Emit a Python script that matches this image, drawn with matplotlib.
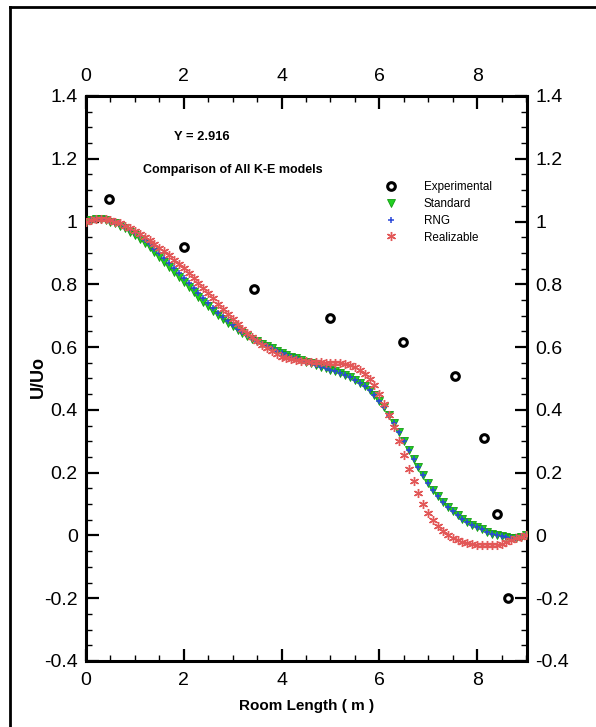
import matplotlib
matplotlib.use('Agg')
import matplotlib.pyplot as plt
from matplotlib.lines import Line2D
from matplotlib.ticker import MultipleLocator

# ── DATA ──────────────────────────────────────────────────────────────────────
exp_x = [0.47, 2.00, 3.43, 4.99, 6.48, 7.55, 8.14, 8.40, 8.63]
exp_y = [1.072, 0.920, 0.785, 0.693, 0.617, 0.508, 0.311, 0.069, -0.199]

model_x = [round(0.1 * i, 1) for i in range(91)]

standard_y = [
    1.000, 1.005, 1.008, 1.008, 1.005, 1.000, 0.994, 0.987, 0.978, 0.968,
    0.957, 0.945, 0.932, 0.918, 0.903, 0.888, 0.872, 0.856, 0.840, 0.824,
    0.808, 0.792, 0.776, 0.760, 0.745, 0.730, 0.716, 0.702, 0.689, 0.677,
    0.666, 0.655, 0.645, 0.636, 0.627, 0.619, 0.611, 0.603, 0.596, 0.589,
    0.582, 0.576, 0.570, 0.564, 0.558, 0.553, 0.548, 0.543, 0.538, 0.533,
    0.528, 0.523, 0.517, 0.511, 0.504, 0.496, 0.487, 0.476, 0.463, 0.447,
    0.429, 0.408, 0.384, 0.358, 0.330, 0.301, 0.272, 0.244, 0.217, 0.191,
    0.167, 0.145, 0.125, 0.107, 0.091, 0.077, 0.064, 0.053, 0.043, 0.034,
    0.026, 0.019, 0.012, 0.006, 0.001, -0.003, -0.006, -0.008, -0.007, -0.004,
    0.000]

rng_y = [
    1.000, 1.005, 1.008, 1.009, 1.007, 1.003, 0.998, 0.991, 0.983, 0.974,
    0.964, 0.953, 0.941, 0.928, 0.914, 0.899, 0.884, 0.868, 0.852, 0.836,
    0.820, 0.803, 0.787, 0.771, 0.755, 0.739, 0.724, 0.709, 0.695, 0.682,
    0.670, 0.658, 0.647, 0.637, 0.628, 0.619, 0.611, 0.603, 0.596, 0.589,
    0.582, 0.576, 0.570, 0.564, 0.558, 0.553, 0.548, 0.543, 0.538, 0.533,
    0.528, 0.523, 0.517, 0.511, 0.504, 0.496, 0.487, 0.476, 0.463, 0.447,
    0.429, 0.408, 0.384, 0.358, 0.330, 0.301, 0.272, 0.244, 0.217, 0.191,
    0.167, 0.145, 0.125, 0.107, 0.091, 0.077, 0.064, 0.053, 0.043, 0.034,
    0.026, 0.019, 0.012, 0.006, 0.001, -0.003, -0.006, -0.008, -0.007, -0.004,
    0.000]

realizable_y = [
    1.000, 1.005, 1.008, 1.009, 1.008, 1.005, 1.000, 0.994, 0.987, 0.979,
    0.970, 0.961, 0.951, 0.940, 0.929, 0.917, 0.905, 0.892, 0.879, 0.865,
    0.851, 0.836, 0.821, 0.805, 0.789, 0.772, 0.755, 0.738, 0.721, 0.705,
    0.689, 0.674, 0.659, 0.645, 0.632, 0.619, 0.607, 0.596, 0.586, 0.577,
    0.570, 0.566, 0.562, 0.559, 0.557, 0.555, 0.553, 0.552, 0.551, 0.550,
    0.549, 0.549, 0.548, 0.546, 0.542, 0.536, 0.527, 0.515, 0.499, 0.478,
    0.451, 0.420, 0.384, 0.344, 0.301, 0.257, 0.213, 0.172, 0.134, 0.101,
    0.073, 0.049, 0.030, 0.014, 0.002, -0.008, -0.015, -0.020, -0.024, -0.027,
    -0.029, -0.030, -0.031, -0.031, -0.030, -0.027, -0.022, -0.016, -0.009, -0.004,
    0.000]

x_ticks = [0, 2, 4, 6, 8]
y_ticks = [-0.4, -0.2, 0, 0.2, 0.4, 0.6, 0.8, 1, 1.2, 1.4]
y_ticklabels = ['-0.4', '-0.2', '0', '0.2', '0.4', '0.6', '0.8', '1', '1.2', '1.4']

plt.rcParams['font.family'] = ['Liberation Sans', 'DejaVu Sans']

# ── FIGURE ────────────────────────────────────────────────────────────────────
fig = plt.figure(figsize=(5.96, 7.27), dpi=100, facecolor='white')
ax = fig.add_axes([0.1443, 0.0908, 0.7399, 0.7772])

ax.plot(model_x, standard_y, ls='none', marker='v', ms=6, mfc='#22d022',
        mec='#139a13', mew=0.6, label='Standard', zorder=3)
ax.plot(model_x, rng_y, ls='none', marker='+', ms=5, mec='#2a48d8',
        mew=1.1, label='RNG', zorder=4)
ax.plot(model_x, realizable_y, ls='none', marker=(6, 2, 0), ms=6.5,
        mec='#e25858', mew=1.0, label='Realizable', zorder=5)
ax.plot(exp_x, exp_y, ls='none', marker='o', ms=5.5, mfc='white', mec='black',
        mew=2.2, label='Experimental', zorder=6)

ax.set_xlim(0, 9.02)
ax.set_ylim(-0.4, 1.4)
ax.set_xticks(x_ticks)
ax.set_yticks(y_ticks)
ax.set_yticklabels(y_ticklabels)
ax.xaxis.set_minor_locator(MultipleLocator(0.5))
ax.yaxis.set_minor_locator(MultipleLocator(0.05))
ax.tick_params(which='both', direction='in', top=True, right=True,
               labeltop=True, labelright=True, labelsize=14, width=1.6)
ax.tick_params(which='major', length=9, pad=6)
ax.tick_params(axis='x', which='major', pad=8)
ax.tick_params(which='minor', length=4, width=1.0)
for sp in ax.spines.values():
    sp.set_linewidth(2.2)

ax.set_xlabel('Room Length ( m )', fontsize=11, fontweight='bold', labelpad=7)
ax.set_ylabel('U/Uo', fontsize=13, fontweight='bold')
ax.yaxis.set_label_coords(-0.088, 0.503)

ax.text(2.37, 1.27, 'Y = 2.916', fontsize=9.3, fontweight='bold',
        ha='center', va='center')
ax.text(3.0, 1.164, 'Comparison of All K-E models', fontsize=9,
        fontweight='bold', ha='center', va='center')

handles, labels = ax.get_legend_handles_labels()
order = [3, 0, 1, 2]
ax.legend([handles[i] for i in order], [labels[i] for i in order],
          loc='upper left', bbox_to_anchor=(0.665, 0.858), frameon=False,
          prop={'size': 8.4}, handletextpad=2.2, labelspacing=0.42,
          handlelength=1.2, borderaxespad=0)

# outer frame
fig.add_artist(Line2D([0.0168, 0.0168], [0, 0.990], color='black', lw=2,
                      transform=fig.transFigure))
fig.add_artist(Line2D([0.0168, 0.998], [0.990, 0.990], color='black', lw=2,
                      transform=fig.transFigure))

fig.savefig('out.png', dpi=100, facecolor='white')
